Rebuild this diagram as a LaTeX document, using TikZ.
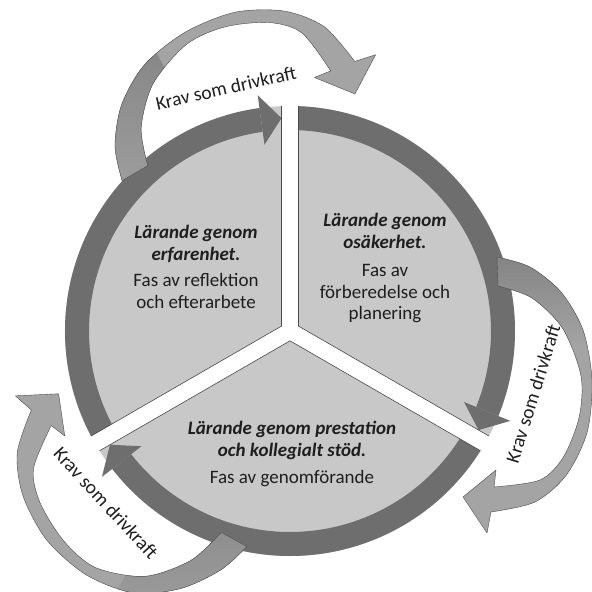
\documentclass[tikz,border=0pt]{standalone}
\usepackage{fontspec}
\setmainfont{Carlito}
\usepackage{xcolor}

\definecolor{ringgray}{HTML}{6E6E6E}
\definecolor{fillgray}{HTML}{C8C8C8}
\definecolor{loopgray}{HTML}{A4A4A4}
\definecolor{loopdark}{HTML}{828282}
\definecolor{edgegray}{HTML}{4A4A4A}
\definecolor{inkgray}{HTML}{1E1E1E}

\newcommand\phasetitle[1]{{\bfseries\itshape #1}}
% outline of one outer loop, \b pushes its middle outwards
\newcommand\looppath{(207,74)
  -- plot[smooth] coordinates {(207,74) (240,64) ({270+0.5*\b},39) ({291+\b},1) ({300+\b},-49)
       ({296+0.6*\b},-101) ({276+0.2*\b},-144) (245,-171) (201,-181)}
  -- (197,-202) -- (173,-166) -- (206,-139) -- (204,-156)
  -- plot[smooth] coordinates {(204,-156) (250,-149) ({273+0.2*\b},-126) ({288+0.6*\b},-86)
       ({289+\b},-45) ({271+\b},2) ({241+0.5*\b},33) (208,45)}
  -- cycle}

\begin{document}
\begin{tikzpicture}[x=1pt,y=1pt,
  gapedge/.style={draw=edgegray,line width=0.6pt},
  loopedge/.style={draw=edgegray,line width=0.4pt,line join=round},
  phase/.style={align=center,text=inkgray,font=\fontsize{19}{21.5}\selectfont},
  drivtext/.style={text=inkgray,font=\fontsize{19.5}{22}\selectfont}
  ]
\def\Ro{225}   % outer radius of the ring
\def\Ri{201}   % inner radius of the ring
\def\g{8.5}    % half width of a gap
\def\back{-22.2} % where the ring stops and the head begins
\useasboundingbox (-290,-261) rectangle (302,331);

% three sectors, each with its ring, head and outer loop
\foreach \k/\turn/\grow/\b in {0/0/1/2, 1/-1.5/1.025/5, 2/-1/1/14}{
  \begin{scope}[rotate=120*\k]
    \fill[fillgray] (30:9.81) -- ({90-asin(\g/\Ro)}:\Ro)
      arc[start angle={90-asin(\g/\Ro)}, end angle={-30+asin(\g/\Ro)}, radius=\Ro] -- cycle;
    \fill[ringgray] ({90-asin(\g/\Ro)}:\Ro)
      arc[start angle={90-asin(\g/\Ro)}, end angle=\back, radius=\Ro] -- (\back:\Ri)
      arc[start angle=\back, end angle={90-asin(\g/\Ri)}, radius=\Ri] -- cycle;
    \fill[ringgray] (\back:238) -- ({-30+asin(\g/213)}:213) -- (\back:188) -- cycle;
    \draw[gapedge] ({90-asin(\g/\Ro)}:\Ro) -- (30:9.81) -- ({-30+asin(\g/\Ro)}:\Ro);
    % outer loop, darker where it leaves the ring
    \begin{scope}[rotate=\turn,scale=\grow]
      \begin{scope}
        \clip \looppath;
        \fill[loopgray] (150,-260) rectangle (340,90);
        \shade[top color=loopdark,bottom color=loopgray] (150,-15) rectangle (340,80);
      \end{scope}
      \draw[loopedge] \looppath;
    \end{scope}
  \end{scope}
}

\node[phase] (erfarenhet) at (-94,64)
  {\phasetitle{Lärande genom}\\\phasetitle{erfarenhet.}\\[5pt]Fas av reflektion\\och efterarbete};
\node[phase] (osakerhet) at (95,63)
  {\phasetitle{Lärande genom}\\\phasetitle{osäkerhet.}\\[7pt]Fas av\\förberedelse och\\planering};
\node[phase] (prestation) at (2,-123)
  {\phasetitle{Lärande genom prestation}\\\phasetitle{och kollegialt stöd.}\\[6pt]Fas av genomförande};

\node[drivtext,rotate=72.7] (krav1) at (-14.5:251) {Krav som drivkraft};
\node[drivtext,rotate=12.7] (krav2) at (-64,243) {Krav som drivkraft};
\node[drivtext,rotate=-47.3] (krav3) at (-184,-172) {Krav som drivkraft};
\end{tikzpicture}
\end{document}
